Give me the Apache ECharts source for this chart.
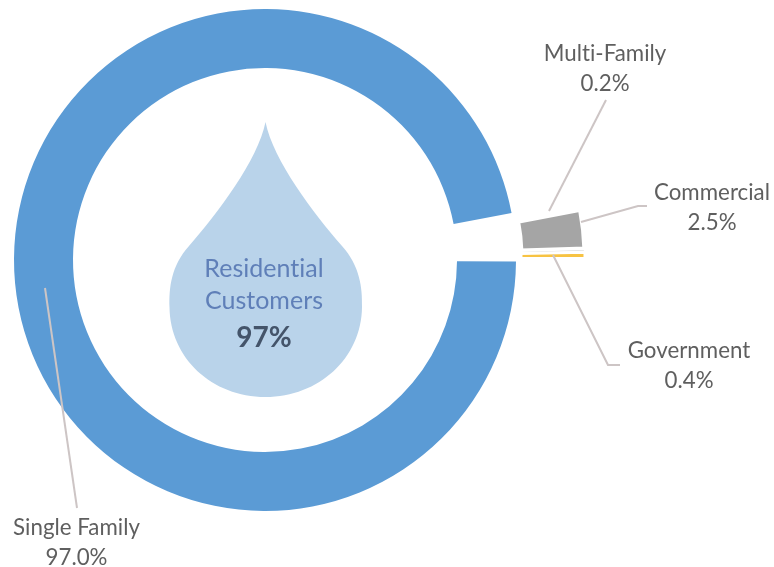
<!DOCTYPE html>
<html>
<head>
<meta charset="utf-8">
<style>html,body{margin:0;padding:0;background:#fff}#c{width:774px;height:567px}</style>
<script src="https://cdn.jsdelivr.net/npm/echarts@6/dist/echarts.min.js"></script>
</head>
<body>
<div id="c"></div>
<script>
const categories = ['Single Family', 'Commercial', 'Multi-Family', 'Government'];
const shares = [97.0, 2.5, 0.2, 0.4];
const centerLines = ['Residential', 'Customers', '97%'];

const colors = ['#5b9bd5', '#a5a5a5', '#d9d9d9', '#f7c343'];
const borders = [0, 5, 2, 3];
const labelSpots = [[76.5, 542.5], [712, 208], [605, 69], [689, 365.5]];
const leaders = [
  [[45, 288], [77, 508]],
  [[581, 222], [638, 206], [647, 206]],
  [[606, 100], [549, 211]],
  [[553, 255], [608, 365], [620, 365]]
];
const FONT = 'Lato, "Open Sans", sans-serif';
const START = -0.35;
const isDetached = i => i > 0;

// a tiny letter spacing switches off Lato's "ti" ligature, absent from the reference
const nativeFillText = CanvasRenderingContext2D.prototype.fillText;
CanvasRenderingContext2D.prototype.fillText = function () {
  this.letterSpacing = '0.02px';
  return nativeFillText.apply(this, arguments);
};

function pie(center, radius, detached) {
  return {
    type: 'pie',
    center: center,
    radius: radius,
    startAngle: START,
    clockwise: true,
    silent: true,
    animation: false,
    avoidLabelOverlap: false,
    emphasis: { disabled: true },
    labelLine: { show: false },
    labelLayout: function (p) {
      const s = labelSpots[p.dataIndex];
      return { x: s[0], y: s[1], align: 'center', verticalAlign: 'middle' };
    },
    data: categories.map(function (name, i) {
      const on = isDetached(i) === detached;
      return {
        name: name,
        value: shares[i],
        itemStyle: on
          ? { color: colors[i], borderColor: '#fff', borderWidth: borders[i] }
          : { color: 'transparent', borderWidth: 0 },
        label: {
          show: on,
          position: 'outside',
          formatter: name + '\n' + shares[i].toFixed(1) + '%',
          fontFamily: FONT,
          fontSize: 22.3,
          lineHeight: 30,
          color: '#5f5f5f',
          align: 'center'
        }
      };
    })
  };
}

const leaderGraphics = leaders.map(function (pts) {
  return {
    type: 'polyline',
    z: 20,
    silent: true,
    shape: { points: pts },
    style: { fill: null, stroke: '#cdc5c5', lineWidth: 2 }
  };
});

echarts.graphic.registerShape('waterDrop', echarts.graphic.extendPath(
  'M265.5 122 C258 160 217 214 189 246 C171 266 169 288 169.5 307 ' +
  'C170 358 212 397 265.5 397 C319 397 361.5 358 362 307 C362.5 288 360 266 342 246 ' +
  'C314 214 273 160 265.5 122 Z', {}
));

const dropGraphic = {
  type: 'waterDrop',
  z: 5,
  silent: true,
  style: { fill: '#b9d3ea' }
};

function centerText(text, y, size, weight, color) {
  return {
    type: 'text', z: 6, silent: true, x: 264, y: y,
    style: {
      text: text, fontFamily: FONT, fontSize: size, fontWeight: weight,
      fill: color, align: 'center', verticalAlign: 'middle'
    }
  };
}

const chart = echarts.init(document.getElementById('c'), null, { renderer: 'canvas' });
chart.setOption({
  backgroundColor: '#fff',
  animation: false,
  series: [pie([265, 260], [192, 251], false), pie([331, 257], [190, 254], true)],
  graphic: [dropGraphic].concat(leaderGraphics, [
    centerText(centerLines[0], 268.5, 25, 'normal', '#5f7fb8'),
    centerText(centerLines[1], 300.5, 25, 'normal', '#5f7fb8'),
    centerText(centerLines[2], 337.5, 28, 'bold', '#44546a')
  ])
});
</script>
</body>
</html>
